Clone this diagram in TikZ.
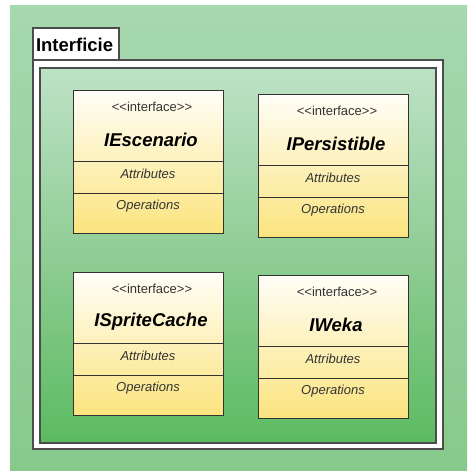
\documentclass[tikz,border=0pt]{standalone}
\usepackage{fontspec}
\setmainfont{Liberation Sans}
\begin{document}
\begin{tikzpicture}[x=1pt,y=-1pt,
  every node/.style={inner sep=0pt,outer sep=0pt},
  pkgborder/.style={draw=black!70,line width=1.1pt},
  classbox/.style={draw=black!80,line width=1pt,
    top color=yellowtop,bottom color=yellowbot,
    minimum width=150pt,minimum height=143pt,anchor=north west},
  stereo/.style={font=\fontsize{13}{15}\selectfont,text=black!80},
  cname/.style={font=\fontsize{18.5}{20}\selectfont\bfseries\itshape},
  compart/.style={font=\fontsize{13}{15}\selectfont\itshape,text=black!80}]
\definecolor{bgtop}{HTML}{A7D8AF}
\definecolor{bgbot}{HTML}{87C98B}
\definecolor{intop}{HTML}{BDE2C6}
\definecolor{inbot}{HTML}{5BBB61}
\definecolor{yellowtop}{HTML}{FFFEF8}
\definecolor{yellowbot}{HTML}{FBE47E}
\useasboundingbox (0,0) rectangle (467,471);
% page background
\fill[white] (0,0) rectangle (467,471);
\shade[top color=bgtop,bottom color=bgbot] (10,5) rectangle (467,471);
% package frame with its tab
\node[pkgborder,fill=white,minimum width=86pt,minimum height=33pt,anchor=north west] (tab) at (33,28) {};
\node[anchor=west,font=\fontsize{18.5}{20}\selectfont\bfseries] (tabtext) at ([xshift=3pt]tab.west) {Interficie};
\node[pkgborder,fill=white,minimum width=410pt,minimum height=389pt,anchor=north west] (pkg) at (33,60) {};
\node[draw=black!70,line width=1.3pt,top color=intop,bottom color=inbot,middle color=bgbot!85!intop,
  minimum width=396pt,minimum height=375pt,anchor=north west] (inner) at (40,68) {};
% interface classes
\foreach \nm/\x/\y/\title in {esc/73/90/IEscenario, per/258/94/IPersistible,
                             spr/73/272/ISpriteCache, wek/258/275/IWeka}{
  \node[classbox] (\nm) at (\x,\y) {};
  \coordinate (\nm-a) at (\x,\y+71);
  \coordinate (\nm-b) at (\x,\y+103);
  \draw[draw=black!80,line width=1pt] (\nm-a) -- (\nm-a -| \nm.east);
  \draw[draw=black!80,line width=1pt] (\nm-b) -- (\nm-b -| \nm.east);
  \node[stereo] (\nm-st) at (\x+79,\y+17) {{<}{<}interface{>}{>}};
  \node[cname] (\nm-nm) at (\x+78,\y+50) {\title};
  \node[compart] (\nm-at) at (\x+75,\y+84) {Attributes};
  \node[compart] (\nm-op) at (\x+75,\y+116) {Operations};
}
\end{tikzpicture}
\end{document}
